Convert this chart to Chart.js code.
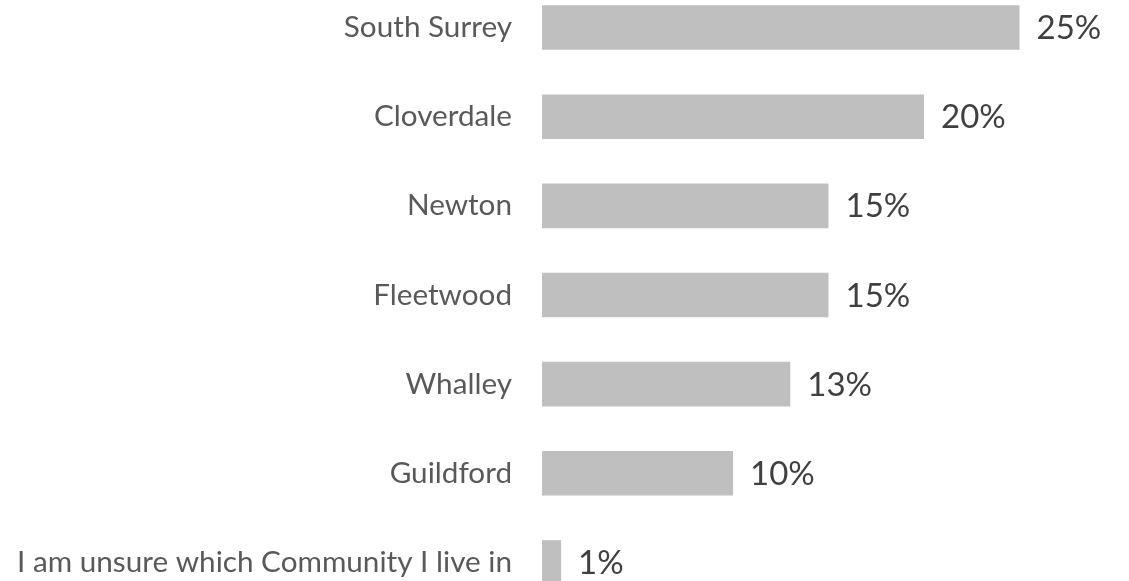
<!DOCTYPE html>
<html>
<head>
<meta charset="utf-8">
<script src="https://cdn.jsdelivr.net/npm/chart.js@4/dist/chart.umd.min.js"></script>
<style>
  html, body { margin: 0; padding: 0; background: #ffffff; overflow: hidden; }
  #wrap { position: relative; width: 1129px; height: 581px; overflow: hidden; }
  #chart { position: absolute; left: 0; top: -17px; }
</style>
</head>
<body>
<div id="wrap"><canvas id="chart" width="1129" height="624"></canvas></div>
<script>
// Survey: which community do respondents live in (share of responses, %)
const communities = [
  'South Surrey',
  'Cloverdale',
  'Newton',
  'Fleetwood',
  'Whalley',
  'Guildford',
  'I am unsure which Community I live in'
];
const shares = [25, 20, 15, 15, 13, 10, 1];

const FONT = 'Lato, "Open Sans", sans-serif';

// Percentage labels drawn just past the end of each bar
const valueLabels = {
  id: 'valueLabels',
  afterDatasetsDraw(chart) {
    const ctx = chart.ctx;
    const meta = chart.getDatasetMeta(0);
    ctx.save();
    ctx.font = '33px ' + FONT;
    ctx.fillStyle = '#404040';
    ctx.textAlign = 'left';
    ctx.textBaseline = 'middle';
    meta.data.forEach((bar, i) => {
      ctx.fillText(shares[i] + '%', bar.x + 17, bar.y + 1);
    });
    ctx.restore();
  }
};

new Chart(document.getElementById('chart'), {
  type: 'bar',
  data: {
    labels: communities,
    datasets: [{
      data: shares,
      backgroundColor: '#bfbfbf',
      borderWidth: 0,
      barPercentage: 0.5,
      categoryPercentage: 1.0
    }]
  },
  options: {
    indexAxis: 'y',
    responsive: false,
    devicePixelRatio: 1,
    animation: false,
    layout: { padding: { left: 0, right: 14, top: 0, bottom: 0 } },
    plugins: {
      legend: { display: false },
      tooltip: { enabled: false }
    },
    scales: {
      x: {
        display: false,
        min: 0,
        max: 30
      },
      y: {
        grid: { display: false, drawTicks: false },
        border: { display: false },
        ticks: {
          color: '#595959',
          padding: 30,
          font: { family: FONT, size: 29.7 }
        },
        afterFit(scale) {
          // fixed gutter for the category names; rows use the full height
          scale.width = 542;
          scale.paddingTop = 0;
          scale.paddingBottom = 0;
        }
      }
    }
  },
  plugins: [valueLabels]
});
</script>
</body>
</html>
